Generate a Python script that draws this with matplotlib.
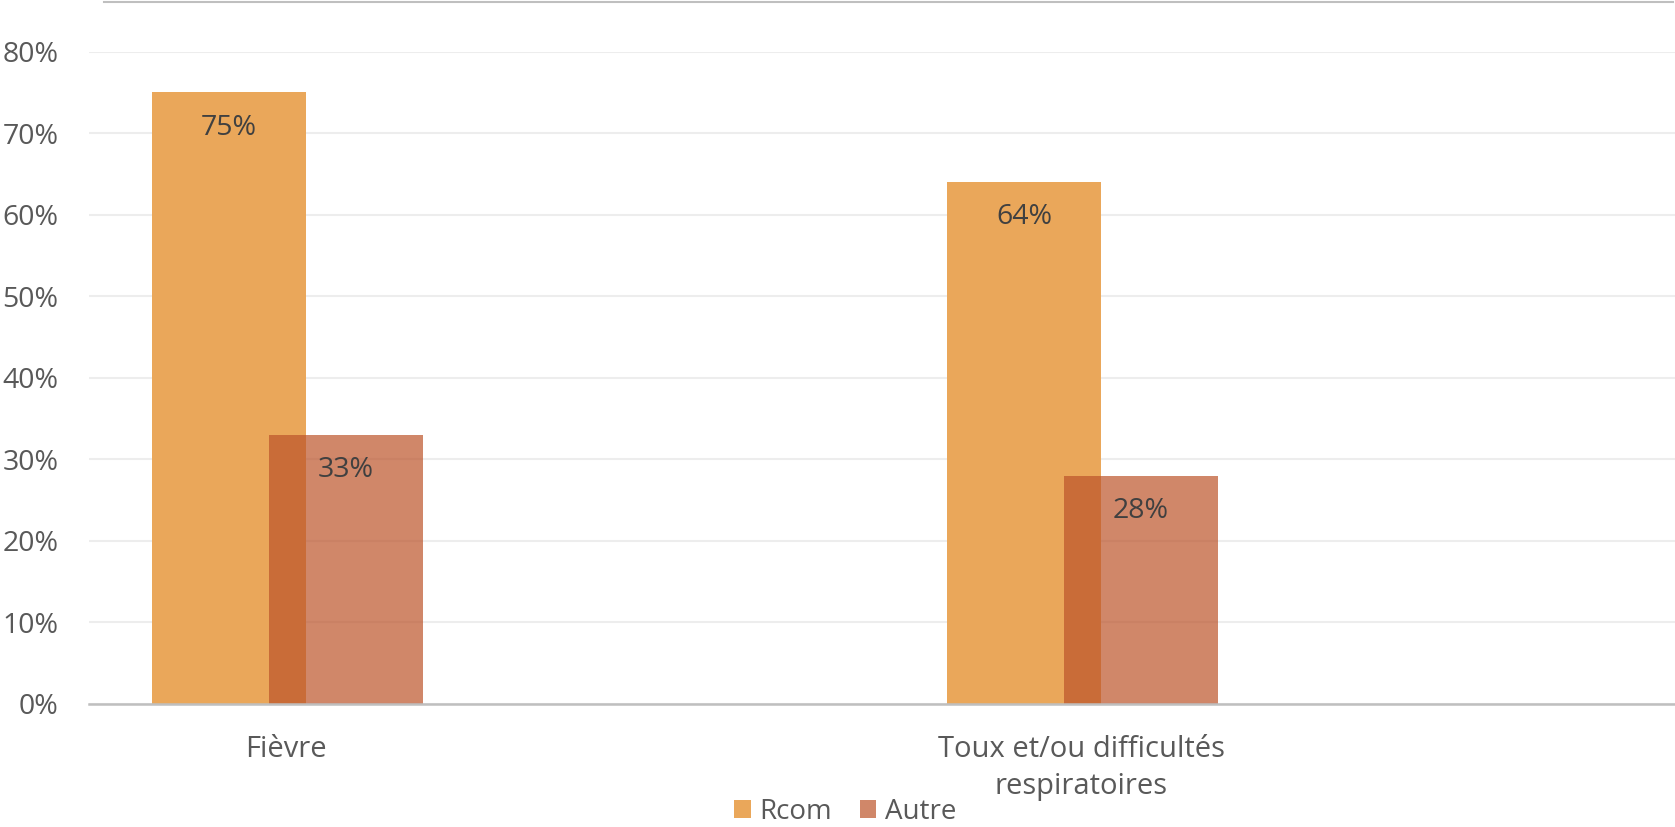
import numpy as np
import matplotlib.pyplot as plt
from matplotlib.lines import Line2D

plt.rcParams['font.family'] = ['Open Sans', 'DejaVu Sans']

categories = ['Fièvre', 'Toux et/ou difficultés\nrespiratoires']
rcom = [75, 64]
autre = [33, 28]
yticks = [0, 10, 20, 30, 40, 50, 60, 70, 80]

fig = plt.figure(figsize=(16.75, 8.27), dpi=100)
ax = fig.add_axes([89 / 1675, 123 / 827, 1 - 89 / 1675, 652.5 / 827])

x = np.arange(len(categories))
w = 0.194
off = 0.073
b1 = ax.bar(x - off + 0.001, rcom, w, color='#EAA75A', zorder=2)
b2 = ax.bar(x + off + 0.002, autre, w, color='#BC542A', alpha=0.7, zorder=3)

for bars, vals in ((b1, rcom), (b2, autre)):
    for r, v in zip(bars, vals):
        ax.annotate(f'{v}%', (r.get_x() + r.get_width() / 2, v),
                    xytext=(0, -25.5), textcoords='offset points',
                    ha='center', va='center', fontsize=20.5, color='#404040', zorder=5)

ax.set_xlim(-0.248, 1.747)
ax.set_ylim(0, 80)
ax.set_yticks(yticks)
ax.set_yticklabels([f'{t}%' for t in yticks])
ax.set_xticks(x)
ax.set_xticklabels(categories, linespacing=1.38, fontsize=21)
ax.tick_params(axis='both', length=0, labelcolor='#595959')
ax.tick_params(axis='y', pad=22, labelsize=20.5)
ax.tick_params(axis='x', pad=22)

ax.grid(axis='y', color='#EDEDED', linewidth=1.5, zorder=0)
ax.set_axisbelow(True)
for s in ['top', 'right', 'left']:
    ax.spines[s].set_visible(False)
ax.spines['bottom'].set_color('#BFBFBF')
ax.spines['bottom'].set_linewidth(1.8)
ax.spines['bottom'].set_zorder(4)

fig.add_artist(Line2D([104 / 1675, 1673 / 1675], [1 - 1.5 / 827, 1 - 1.5 / 827],
                      color='#BFBFBF', linewidth=1.5))

fig.legend([b1, b2], ['Rcom', 'Autre'], loc='center', bbox_to_anchor=(845 / 1675, 1 - 812 / 827),
           ncol=2, frameon=False, fontsize=20, labelcolor='#595959',
           handlelength=0.6, handleheight=0.6, handletextpad=0.3, columnspacing=1.0)

fig.savefig('out.png', dpi=100)
